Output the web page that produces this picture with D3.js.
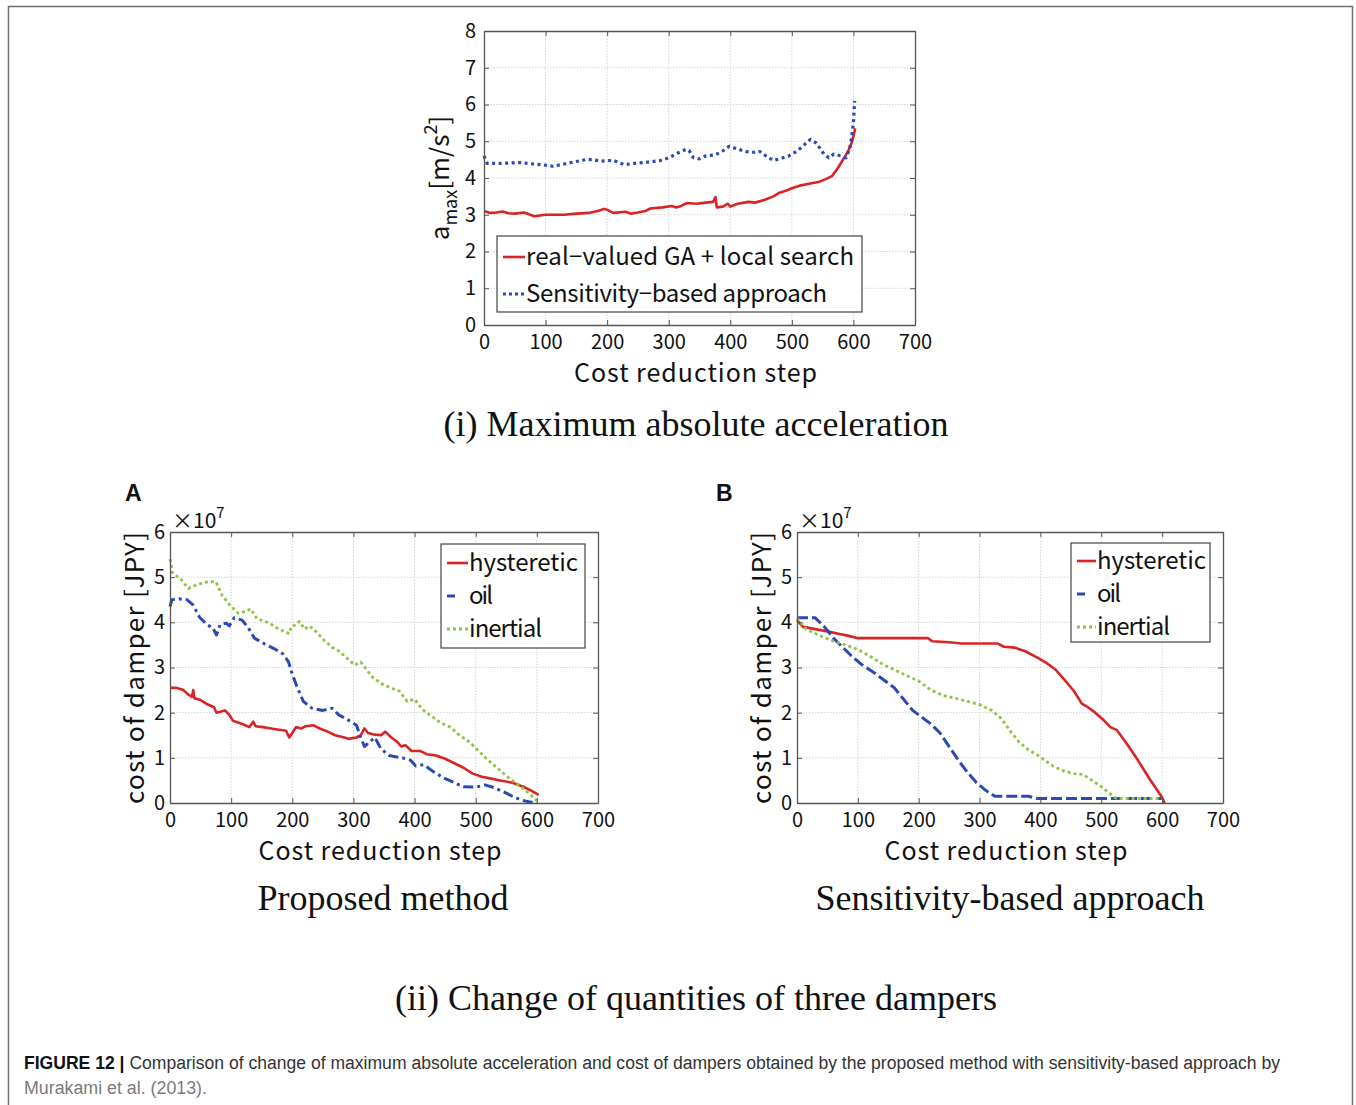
<!DOCTYPE html>
<html>
<head>
<meta charset="utf-8">
<script src="https://cdn.jsdelivr.net/npm/d3@7"></script>
<style>
  html, body { margin: 0; padding: 0; background: #fff; }
  svg { display: block; }
</style>
</head>
<body>
<div id="fig"></div>
<script>
// --- data ---
const xTicks = [0, 100, 200, 300, 400, 500, 600, 700];
const accTicks = [0, 1, 2, 3, 4, 5, 6, 7, 8];
const costTicks = [0, 1, 2, 3, 4, 5, 6];

// (i) maximum absolute acceleration [m/s^2]
const accGA = [[0,3.1],[10,3.05],[20,3.06],[30,3.09],[40,3.04],[50,3.03],[65,3.06],[75,3.0],[82,2.96],[100,3.0],[130,3.0],[150,3.03],[170,3.05],[185,3.1],[195,3.16],[202,3.12],[210,3.05],[230,3.08],[238,3.03],[250,3.06],[262,3.1],[270,3.17],[290,3.2],[305,3.24],[312,3.2],[320,3.24],[330,3.32],[345,3.3],[360,3.33],[372,3.35],[376,3.48],[378,3.2],[388,3.22],[396,3.3],[400,3.22],[412,3.3],[430,3.35],[440,3.33],[455,3.4],[470,3.5],[480,3.6],[490,3.65],[500,3.72],[515,3.8],[530,3.85],[545,3.9],[555,3.97],[565,4.05],[575,4.28],[585,4.55],[592,4.75],[598,5.0],[603,5.35]];
const accSens = [[0,4.6],[5,4.4],[30,4.4],[60,4.42],[80,4.38],[95,4.36],[112,4.32],[130,4.38],[150,4.45],[165,4.5],[175,4.5],[190,4.46],[210,4.48],[228,4.36],[245,4.4],[265,4.43],[285,4.47],[300,4.55],[315,4.68],[328,4.78],[333,4.75],[340,4.55],[350,4.52],[360,4.6],[375,4.63],[385,4.7],[398,4.86],[410,4.8],[425,4.72],[440,4.7],[448,4.72],[458,4.6],[470,4.48],[480,4.52],[495,4.6],[510,4.75],[520,4.9],[530,5.05],[540,4.95],[552,4.65],[560,4.55],[568,4.65],[580,4.6],[588,4.55],[594,4.8],[597,5.1],[600,5.5],[602,6.1]];

// (ii)-A proposed method, cost of damper [x1e7 JPY]
const propHyst = [[0,2.55],[10,2.55],[22,2.5],[30,2.4],[36,2.35],[38,2.5],[40,2.32],[50,2.28],[62,2.18],[72,2.12],[76,2.0],[82,2.02],[90,2.05],[97,1.95],[103,1.82],[118,1.75],[130,1.68],[136,1.8],[140,1.7],[152,1.68],[170,1.64],[190,1.6],[195,1.45],[200,1.55],[206,1.68],[215,1.65],[222,1.7],[235,1.72],[245,1.65],[258,1.58],[270,1.5],[282,1.46],[292,1.42],[305,1.45],[312,1.5],[318,1.65],[324,1.55],[332,1.52],[345,1.5],[352,1.58],[362,1.45],[372,1.35],[378,1.25],[385,1.28],[395,1.15],[410,1.15],[420,1.08],[435,1.05],[450,0.98],[465,0.88],[480,0.78],[495,0.65],[510,0.58],[525,0.54],[540,0.5],[560,0.45],[578,0.36],[590,0.28],[603,0.18]];
const propOil = [[0,4.35],[3,4.5],[15,4.52],[28,4.5],[38,4.38],[48,4.12],[60,3.95],[70,3.88],[76,3.72],[82,3.95],[92,3.98],[97,3.92],[105,4.1],[118,4.05],[128,3.88],[138,3.65],[155,3.52],[170,3.42],[185,3.3],[194,3.12],[200,2.85],[207,2.6],[218,2.25],[232,2.1],[250,2.05],[265,2.1],[276,1.95],[290,1.85],[305,1.72],[312,1.45],[318,1.25],[326,1.35],[335,1.45],[345,1.2],[358,1.05],[380,1.0],[393,0.95],[402,0.82],[415,0.85],[430,0.7],[448,0.55],[465,0.45],[480,0.36],[500,0.35],[515,0.4],[530,0.34],[545,0.25],[560,0.15],[575,0.06],[590,0.02],[600,0.0]];
const propInert = [[0,5.4],[4,5.1],[18,4.95],[30,4.75],[42,4.82],[55,4.88],[65,4.9],[75,4.9],[85,4.6],[98,4.38],[112,4.2],[125,4.25],[132,4.3],[142,4.08],[160,4.0],[178,3.85],[195,3.75],[198,3.9],[206,3.95],[212,4.02],[220,3.85],[228,3.92],[240,3.78],[252,3.6],[265,3.45],[278,3.35],[290,3.2],[302,3.05],[312,3.12],[322,2.95],[330,2.8],[345,2.65],[360,2.55],[375,2.48],[388,2.25],[400,2.3],[412,2.08],[428,1.92],[442,1.78],[458,1.68],[472,1.52],[490,1.35],[505,1.15],[520,0.95],[535,0.78],[550,0.6],[565,0.45],[578,0.32],[590,0.18],[600,0.05]];

// (ii)-B sensitivity-based approach, cost of damper [x1e7 JPY]
const sensHyst = [[0,4.05],[10,3.9],[30,3.85],[50,3.8],[70,3.74],[85,3.7],[100,3.65],[150,3.65],[215,3.65],[222,3.58],[250,3.56],[270,3.53],[330,3.53],[340,3.46],[358,3.44],[375,3.36],[395,3.22],[410,3.1],[425,2.95],[440,2.72],[455,2.48],[468,2.2],[478,2.12],[490,2.0],[505,1.82],[515,1.68],[525,1.62],[540,1.35],[560,0.95],[580,0.52],[600,0.12],[604,0.0]];
const sensOil = [[0,4.1],[30,4.1],[45,3.9],[60,3.65],[75,3.45],[90,3.25],[105,3.08],[125,2.9],[145,2.7],[160,2.55],[175,2.3],[190,2.05],[205,1.9],[220,1.75],[235,1.55],[250,1.25],[265,0.95],[280,0.68],[295,0.45],[310,0.28],[325,0.15],[380,0.15],[395,0.1],[600,0.1]];
const sensInert = [[0,4.1],[15,3.85],[35,3.72],[60,3.58],[80,3.5],[100,3.4],[120,3.25],[140,3.08],[160,2.95],[180,2.82],[200,2.7],[220,2.5],[240,2.38],[260,2.32],[280,2.25],[300,2.18],[320,2.05],[335,1.88],[350,1.6],[365,1.35],[380,1.18],[400,1.02],[420,0.82],[440,0.7],[455,0.65],[470,0.63],[485,0.5],[500,0.36],[515,0.2],[525,0.1],[600,0.1]];

const RED = "#dc2323", BLUE = "#2c48b3", GREEN = "#8fc641";
const SANS = "'Noto Sans CJK JP', 'Noto Sans', sans-serif";
const SERIF = "'Liberation Serif', 'DejaVu Serif', serif";

const svg = d3.select("#fig").append("svg")
    .attr("width", 1356).attr("height", 1105)
    .style("background", "#fff");

// frame round the figure
svg.append("path")
    .attr("d", "M8.5,1110 V6.5 H1352.5 V1110")
    .attr("fill", "none").attr("stroke", "#6e6e6e").attr("stroke-width", 1.5);

function drawPanel(p) {
    const x = d3.scaleLinear().domain([0, 700]).range([p.x0, p.x1]);
    const y = d3.scaleLinear().domain(p.yDomain).range([p.y0, p.y1]);
    const g = svg.append("g");

    // grid
    g.selectAll(".gx").data(xTicks.slice(1, -1)).enter().append("line")
        .attr("x1", d => x(d)).attr("x2", d => x(d)).attr("y1", p.y0).attr("y2", p.y1)
        .attr("stroke", "#d4d4d4").attr("stroke-width", 1).attr("stroke-dasharray", "1.5,1.5");
    g.selectAll(".gy").data(p.yTicks.slice(1, -1)).enter().append("line")
        .attr("y1", d => y(d)).attr("y2", d => y(d)).attr("x1", p.x0).attr("x2", p.x1)
        .attr("stroke", "#d4d4d4").attr("stroke-width", 1).attr("stroke-dasharray", "1.5,1.5");

    // series
    const line = d3.line().x(d => x(d[0])).y(d => y(d[1]));
    p.series.forEach(s => {
        g.append("path").datum(s.data)
            .attr("d", line)
            .attr("fill", "none")
            .attr("stroke", s.color)
            .attr("stroke-width", s.width)
            .attr("stroke-dasharray", s.dash || null)
            .attr("stroke-linejoin", "round");
    });

    // axes (MATLAB style box, ticks inward)
    const fmt = d3.format("d");
    const axB = d3.axisBottom(x).tickValues(xTicks).tickFormat(fmt).tickSizeInner(-5).tickSizeOuter(0).tickPadding(10);
    const axL = d3.axisLeft(y).tickValues(p.yTicks).tickFormat(fmt).tickSizeInner(-5).tickSizeOuter(0).tickPadding(p.yPad);
    const axT = d3.axisTop(x).tickValues(xTicks).tickSizeInner(-5).tickSizeOuter(0).tickFormat("");
    const axR = d3.axisRight(y).tickValues(p.yTicks).tickSizeInner(-5).tickSizeOuter(0).tickFormat("");
    [[axB, `translate(0,${p.y0})`], [axL, `translate(${p.x0},0)`],
     [axT, `translate(0,${p.y1})`], [axR, `translate(${p.x1},0)`]].forEach(([ax, tr]) => {
        const a = g.append("g").attr("transform", tr).call(ax);
        a.select(".domain").attr("stroke", "#555").attr("stroke-width", 1.3);
        a.selectAll(".tick line").attr("stroke", "#555").attr("stroke-width", 1);
        a.selectAll("text").attr("font-family", SANS).attr("font-size", 20).attr("fill", "#111");
    });

    // axis labels
    g.append("text")
        .attr("x", (p.x0 + x(700)) / 2 - 4).attr("y", p.y0 + 57)
        .attr("text-anchor", "middle").attr("font-family", SANS).attr("font-size", 25).attr("fill", "#111")
        .attr("textLength", 243).attr("lengthAdjust", "spacing")
        .text("Cost reduction step");
    p.yLabel(g);

    // legend
    const L = p.legend;
    g.append("rect").attr("x", L.x).attr("y", L.y).attr("width", L.w).attr("height", L.h)
        .attr("fill", "#fff").attr("stroke", "#444").attr("stroke-width", 1.2);
    p.series.forEach((s, i) => {
        const yy = L.y + L.pad + i * L.row;
        g.append("line").attr("x1", L.x + 6).attr("x2", L.x + L.sample).attr("y1", yy).attr("y2", yy)
            .attr("stroke", s.color).attr("stroke-width", s.width)
            .attr("stroke-dasharray", s.legendDash || null);
        g.append("text").attr("x", L.x + L.sample + 1).attr("y", yy + 8)
            .attr("font-family", SANS).attr("font-size", L.fs).attr("fill", "#111")
            .attr("textLength", L.tl[i]).attr("lengthAdjust", "spacing")
            .text(s.name);
    });
    return g;
}

// (i) acceleration chart
drawPanel({
    x0: 484, x1: 915, y0: 325, y1: 31, yDomain: [0, 8], yTicks: accTicks, yPad: 8,
    series: [
        {name: "real\u2212valued GA + local search", data: accGA, color: RED, width: 2.6},
        {name: "Sensitivity\u2212based approach", data: accSens, color: BLUE, width: 3.2, dash: "3,3.5", legendDash: "3,3"}
    ],
    legend: {x: 497, y: 236, w: 365, h: 76, pad: 21, row: 37, sample: 28, fs: 24, tl: [328, 301]},
    yLabel: g => {
        const t = g.append("text")
            .attr("transform", "translate(449,178) rotate(-90)")
            .attr("text-anchor", "middle").attr("font-family", SANS).attr("font-size", 26).attr("fill", "#111");
        t.append("tspan").text("a");
        t.append("tspan").attr("font-size", 18).attr("dy", 8).text("max");
        t.append("tspan").attr("dy", -8).text("[m/s");
        t.append("tspan").attr("font-size", 18).attr("dy", -12).text("2");
        t.append("tspan").attr("dy", 12).text("]");
    }
});

function costYLabel(xPos) {
    return g => {
        g.append("text")
            .attr("transform", `translate(${xPos},668) rotate(-90)`)
            .attr("text-anchor", "middle").attr("font-family", SANS).attr("font-size", 26).attr("fill", "#111")
            .attr("textLength", 272).attr("lengthAdjust", "spacing")
            .text("cost of damper [JPY]");
    };
}
function expLabel(g, xPos) {
    const t = g.append("text").attr("x", xPos).attr("y", 528)
        .attr("font-family", SANS).attr("font-size", 21).attr("fill", "#111");
    t.append("tspan").text("\u00d710");
    t.append("tspan").attr("font-size", 15).attr("dy", -10).text("7");
}

// (ii) A
const gA = drawPanel({
    x0: 170, x1: 598, y0: 803, y1: 532, yDomain: [0, 6], yTicks: costTicks, yPad: 5,
    series: [
        {name: "hysteretic", data: propHyst, color: RED, width: 2.6},
        {name: "oil", data: propOil, color: BLUE, width: 3, dash: "10,4,3,4", legendDash: "8,30"},
        {name: "inertial", data: propInert, color: GREEN, width: 2.8, dash: "3,3", legendDash: "3,3"}
    ],
    legend: {x: 441, y: 544, w: 144, h: 104, pad: 19, row: 33, sample: 27, fs: 24, tl: [109, 24, 73]},
    yLabel: costYLabel(144)
});
expLabel(gA, 172);

// (ii) B
const gB = drawPanel({
    x0: 797, x1: 1223, y0: 803, y1: 532, yDomain: [0, 6], yTicks: costTicks, yPad: 5,
    series: [
        {name: "hysteretic", data: sensHyst, color: RED, width: 2.6},
        {name: "oil", data: sensOil, color: BLUE, width: 3, dash: "11,4", legendDash: "8,30"},
        {name: "inertial", data: sensInert, color: GREEN, width: 2.8, dash: "3,3", legendDash: "3,3"}
    ],
    legend: {x: 1071, y: 543, w: 139, h: 99, pad: 18, row: 33, sample: 25, fs: 24, tl: [109, 24, 73]},
    yLabel: costYLabel(771)
});
expLabel(gB, 799);

// panel letters
[["A", 125], ["B", 716]].forEach(([t, xx]) => {
    svg.append("text").attr("x", xx).attr("y", 501)
        .attr("font-family", "'Liberation Sans', Arial, sans-serif").attr("font-weight", "bold")
        .attr("font-size", 23).attr("fill", "#111").text(t);
});

// sub titles
const titles = [
    ["(i) Maximum absolute acceleration", 696, 436],
    ["Proposed method", 383, 910],
    ["Sensitivity-based approach", 1010, 910],
    ["(ii) Change of quantities of three dampers", 696, 1010]
];
titles.forEach(([t, xx, yy]) => {
    svg.append("text").attr("x", xx).attr("y", yy).attr("text-anchor", "middle")
        .attr("font-family", SERIF).attr("font-size", 36).attr("fill", "#111").text(t);
});

// caption
const cap = svg.append("text").attr("x", 24).attr("y", 1069)
    .attr("font-family", "'Liberation Sans Narrow', 'Liberation Sans', sans-serif")
    .attr("font-size", 18).attr("fill", "#333")
    .attr("textLength", 1256).attr("lengthAdjust", "spacingAndGlyphs");
cap.append("tspan").attr("font-weight", "bold").attr("fill", "#111").text("FIGURE 12 | ");
cap.append("tspan").text("Comparison of change of maximum absolute acceleration and cost of dampers obtained by the proposed method with sensitivity-based approach by");
svg.append("text").attr("x", 24).attr("y", 1094)
    .attr("font-family", "'Liberation Sans Narrow', 'Liberation Sans', sans-serif")
    .attr("font-size", 18).attr("fill", "#7a7a7a")
    .attr("textLength", 183).attr("lengthAdjust", "spacingAndGlyphs")
    .text("Murakami et al. (2013).");
</script>
</body>
</html>
